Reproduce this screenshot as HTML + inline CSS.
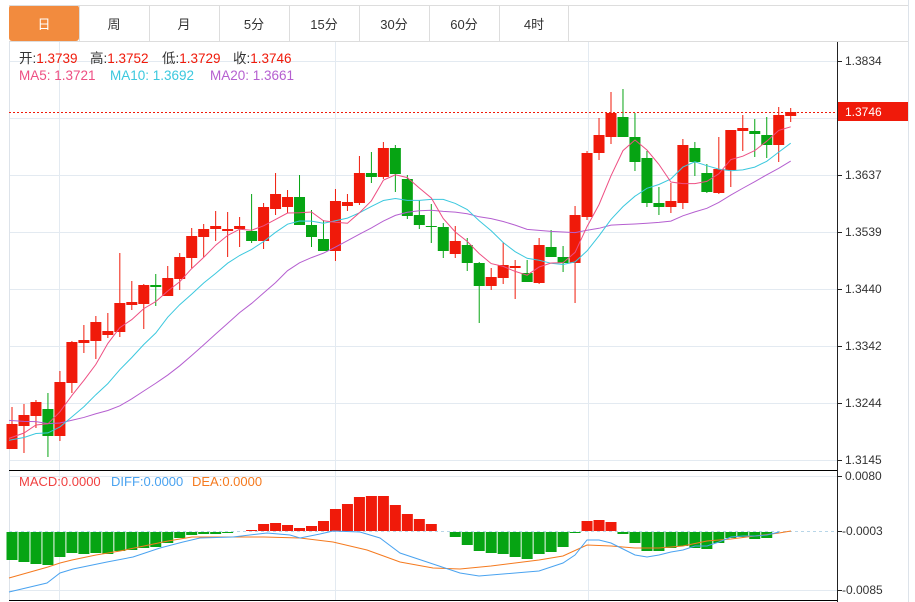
<!DOCTYPE html>
<html><head><meta charset="utf-8"><style>
body{margin:0;background:#fff;width:915px;height:602px;overflow:hidden;font-family:"Liberation Sans","Noto Sans CJK SC",sans-serif}
</style></head><body>
<svg id="s" width="915" height="602" xmlns="http://www.w3.org/2000/svg" style="position:absolute;left:0;top:0">
</svg>
<script>
var s=document.getElementById('s'),h='';
function L(x1,y1,x2,y2,c,w,d){h+='<line x1="'+x1+'" y1="'+y1+'" x2="'+x2+'" y2="'+y2+'" stroke="'+c+'" stroke-width="'+(w||1)+'"'+(d?' stroke-dasharray="'+d+'"':'')+'/>';}
function R(x,y,w,hh,c){h+='<rect x="'+x+'" y="'+y+'" width="'+w+'" height="'+hh+'" fill="'+c+'"/>';}
function T(x,y,t,c,sz,anc){h+='<text x="'+x+'" y="'+y+'" fill="'+c+'" font-size="'+(sz||12)+'"'+(anc?' text-anchor="'+anc+'"':'')+'>'+t+'</text>';}
function P(pts,c){h+='<polyline fill="none" stroke="'+c+'" stroke-width="1" points="'+pts.map(function(p){return p[0]+','+p[1]}).join(' ')+'"/>';}
var G='#e3eaf1';
[61,118,175,232,289,346,403,460].forEach(function(y){L(9,y+.5,837,y+.5,G);});
[476,590].forEach(function(y){L(9,y+.5,837,y+.5,G);});
[59,335,588].forEach(function(x){L(x+.5,42,x+.5,600,G);});
L(9.5,42,9.5,600,'#dde3ea');L(908.5,0,908.5,602,'#dde3ea');
R(9,5,560,36,'#fff');
var tabs=['日','周','月','5分','15分','30分','60分','4时'];
for(var i=0;i<8;i++){var x=9+i*70;
 if(i==0){h+='<rect x="'+x+'" y="5" width="70" height="36" rx="3" fill="#f28b3e"/>';}
 else L(x+.5,5,x+.5,41,'#dddddd');
 T(x+35,29,tabs[i],i==0?'#fff':'#333',13,'middle');}
L(9,5.5,908,5.5,'#dddddd');L(9,41.5,908,41.5,'#dddddd');L(568.5,5,568.5,41,'#dddddd');
var r='#f01a0a',g='#06a413';
var C=[[424,449,407,449,r],[415,426,404,453,r],[402,416,400,428,r],[409,436,393,457,g],[382,436,371,441,r],[342,383,341,393,r],[340,343,325,353,r],[322,341,316,359,r],[331,335,313,338,r],[303,332,253,337,r],
[302,305,281,310,r],[285,304,284,329,r],[285,287,274,306,g],[278,296,266,296,r],[257,279,253,290,r],[236,258,228,268,r],[229,237,224,257,r],[226,229,211,241,r],[229,231,212,257,r],[226,229,217,247,r],
[231,241,194,243,g],[207,241,203,249,r],[194,209,173,215,r],[197,207,190,213,r],[197,225,175,225,g],[225,237,210,247,g],[239,251,220,251,g],[201,251,189,261,r],[202,206,194,211,r],[173,203,156,205,r],
[173,177,152,183,g],[148,177,142,179,r],[148,174,145,192,g],[179,216,175,219,g],[215,225,200,229,g],[226,227,204,243,g],[227,251,223,258,g],[241,254,226,258,r],[245,263,238,271,g],[263,286,262,323,g],
[277,286,268,290,r],[265,278,242,284,r],[266,268,260,299,r],[273,282,260,282,g],[245,283,238,284,r],[247,257,230,257,g],[257,263,246,272,g],[215,263,206,303,r],[153,217,151,220,r],[135,153,118,160,r],
[113,137,92,144,r],[117,137,89,137,g],[137,162,113,171,g],[158,203,151,207,g],[203,207,187,215,g],[201,207,183,213,r],[145,203,139,209,r],[148,162,142,176,g],[173,192,164,193,g],[169,193,137,194,r],
[130,170,130,187,r],[128,131,115,151,r],[131,134,119,157,g],[135,145,117,158,g],[115,145,107,162,r],[112,116,108,122,r]];
function cx(i){return 12+i*11.98;}
C.forEach(function(c,i){var x=cx(i);L(x,c[2],x,c[3],c[4],1);R(x-5.5,c[0],11,Math.max(1,c[1]-c[0]),c[4]);});
var cl=C.map(function(c){return c[4]==r?c[0]:c[1];});
var pre=[];for(var k=0;k<10;k++)pre.push(396);for(var k=0;k<10;k++)pre.push(442);
var all=pre.concat(cl);
function ma(n){var o=[];for(var i=0;i<cl.length;i++){var j=i+20,s2=0;for(var k=0;k<n;k++)s2+=all[j-k];o.push([cx(i),s2/n]);}o[0][0]=9;return o;}
P(ma(20),'#b55fd0');P(ma(10),'#3bc8de');P(ma(5),'#ee4f83');
L(9,112.5,837,112.5,'#f01a0a',1,'2,2');
L(9,470.5,837,470.5,'#000');L(9,600.5,837,600.5,'#000');L(837.5,42,837.5,602,'#222');
var lab=[[61,'1.3834'],[175,'1.3637'],[232,'1.3539'],[289,'1.3440'],[346,'1.3342'],[403,'1.3244'],[460,'1.3145']];
lab.forEach(function(a){L(838,a[0]+.5,842,a[0]+.5,'#222');T(845,a[0]+4,a[1],'#333',12);});
R(838,102,70,19,'#f01a0a');T(845,116,'1.3746','#fff',12);
[[476,'0.0080'],[531,'-0.0003'],[590,'-0.0085']].forEach(function(a){L(838,a[0]+.5,842,a[0]+.5,'#222');T(a[1][0]=='-'?842:845,a[0]+4,a[1],'#333',12);});
L(9,531.5,837,531.5,'#b8d6e8',1,'3,3');
var M=[-28,-30,-32,-33,-25,-21,-22,-21,-22,-19,-18,-16,-15,-11,-6,-3,-2,-2,-1,0,1,7,8,6,3,5,10,22,27,34,35,35,26,17,12,7,0,-5,-13,-19,-21,-22,-25,-27,-22,-20,-15,-1,10,11,9,-2,-11,-19,-19,-16,-14,-16,-17,-11,-6,-5,-7,-6,0,0];
M.forEach(function(v,i){var x=cx(i);if(v>0)R(x-5.5,531-v,11,v,r);else if(v<0)R(x-5.5,532,11,-v,g);});
P([[9,578],[48,567],[60,563],[72,560],[96,555],[120,551],[144,546],[168,541],[192,537],[240,537],[264,537],[300,538],[333,542],[367,550],[400,562],[433,568],[460,569],[491,566],[515,563],[539,560],[563,556],[587,545],[611,546],[635,548],[659,548],[683,546],[707,541],[731,539],[755,536],[779,533],[791,531]],'#f57a1f');
P([[9,592],[47,583],[60,573],[73,569],[107,562],[133,557],[160,548],[183,542],[200,538],[233,537],[267,533],[290,535],[300,538],[320,534],[333,531],[360,532],[380,538],[400,553],[433,564],[460,573],[479,576],[503,574],[527,572],[539,571],[551,567],[563,563],[575,555],[587,540],[599,540],[611,543],[623,549],[635,555],[647,557],[659,555],[671,552],[683,550],[695,546],[707,546],[719,542],[731,537],[743,536],[755,536],[767,535],[779,532]],'#4aa3f0');
h+='<text font-size="13.5" y="63"><tspan x="19" fill="#333">开:</tspan><tspan fill="#f01a0a">1.3739</tspan><tspan x="90" fill="#333">高:</tspan><tspan fill="#f01a0a">1.3752</tspan><tspan x="162" fill="#333">低:</tspan><tspan fill="#f01a0a">1.3729</tspan><tspan x="233" fill="#333">收:</tspan><tspan fill="#f01a0a">1.3746</tspan></text>';
h+='<text font-size="13.5" y="80"><tspan x="19" fill="#ee4f83">MA5: 1.3721</tspan><tspan x="110" fill="#3bc8de">MA10: 1.3692</tspan><tspan x="210" fill="#b55fd0">MA20: 1.3661</tspan></text>';
h+='<text font-size="13" y="486"><tspan x="19" fill="#f04040">MACD:0.0000</tspan><tspan x="111" fill="#4aa3f0">DIFF:0.0000</tspan><tspan x="192" fill="#f57a1f">DEA:0.0000</tspan></text>';
s.innerHTML=h;
</script>
</body></html>
